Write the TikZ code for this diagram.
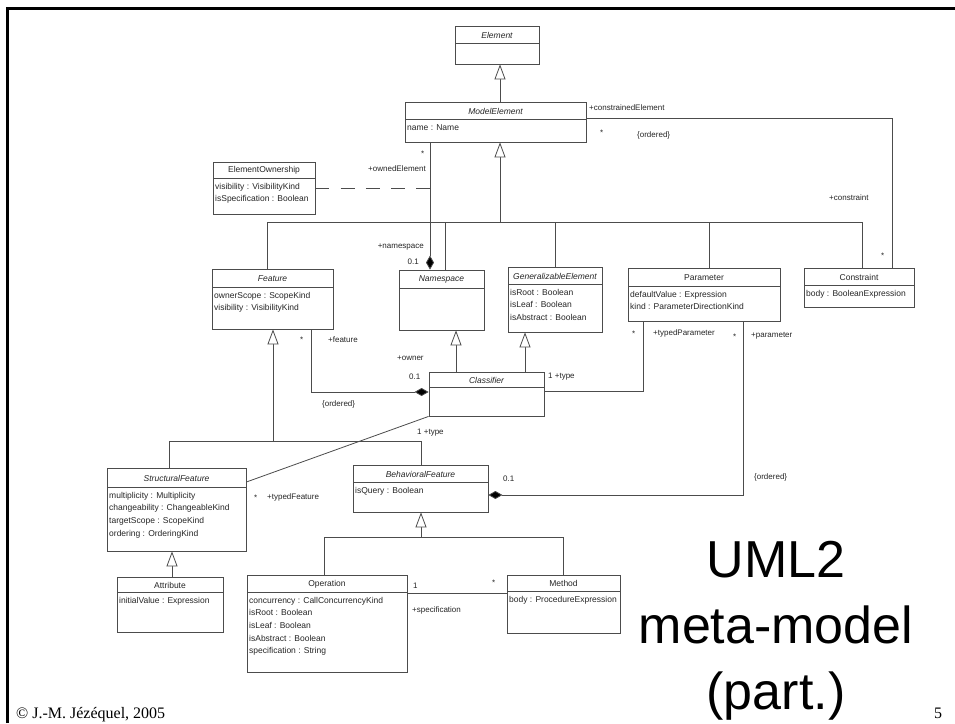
\documentclass[tikz,border=0pt]{standalone}
\usepackage{fontspec}
\setmainfont{Liberation Serif}
\newfontfamily\arialf{Liberation Sans}
\usetikzlibrary{arrows.meta,fit}
\newcommand\umlclass[7]{%
  \coordinate (#1-a) at (#2,#3);
  \coordinate (#1-b) at (#4,#5);
  \node[box, fit=(#1-a)(#1-b)] (#1) {};
  \draw[ln] (#2,#6) -- (#4,#6);
  \node[ttl] (#1-t) at ({(#2+#4)/2},{(#3+#6)/2+0.5}) {#7};
}
\newcommand\umlattr[5]{% name, x1, ydiv, text
  \node[attr] (#1) at (#2+2,#3+5) {#4#5};
}
\begin{document}
\begin{tikzpicture}[x=1pt,y=-1pt,
  box/.style={draw=black!70, line width=0.8pt, inner sep=0pt, fill=white},
  ln/.style={draw=black!70, line width=0.8pt},
  gen/.style={ln, -{Triangle[open,length=15pt,width=11pt,fill=white]}},
  comp/.style={ln, -{Diamond[length=14pt,width=8pt,fill=black]}},
  ttl/.style={font=\arialf\fontsize{8.5}{10}\selectfont, inner sep=0pt, text=black!85},
  attr/.style={inner sep=0pt, text=black!85, align=left, anchor=north west, font=\arialf\fontsize{8.5}{12.6}\selectfont},
  lbl/.style={font=\arialf\fontsize{8}{10}\selectfont, inner sep=0pt, text=black!85, anchor=west},
  lblr/.style={lbl, anchor=east},
  big/.style={font=\arialf\fontsize{52}{60}\selectfont, inner sep=0pt, anchor=base},
]
\fill[white] (0,0) rectangle (955,723);
\useasboundingbox (0,0) rectangle (955,723);
\draw[line width=3pt, line join=miter] (7.5,723) -- (7.5,8) -- (955,8);

% classes
\umlclass{El}{455}{26}{539}{64}{43}{\itshape Element}
\umlclass{ME}{405}{102}{586}{142}{119}{\itshape ModelElement}
\umlattr{MEa}{405}{119}{name : Name}{}
\umlclass{EO}{213}{162}{315}{214}{178}{ElementOwnership}
\umlattr{EOa}{213}{178}{visibility : VisibilityKind\\isSpecification : Boolean}{}
\umlclass{Feat}{212}{269}{333}{329}{287}{\itshape Feature}
\umlattr{Feata}{212}{287}{ownerScope : ScopeKind\\visibility : VisibilityKind}{}
\umlclass{NS}{399}{270}{484}{330}{288}{\itshape Namespace}
\umlclass{GE}{508}{267}{602}{332}{284}{\itshape GeneralizableElement}
\umlattr{GEa}{508}{284}{isRoot : Boolean\\isLeaf : Boolean\\isAbstract : Boolean}{}
\umlclass{Par}{628}{268}{780}{321}{286}{Parameter}
\umlattr{Para}{628}{286}{defaultValue : Expression\\kind : ParameterDirectionKind}{}
\umlclass{Con}{804}{268}{914}{307}{285}{Constraint}
\umlattr{Cona}{804}{285}{body : BooleanExpression}{}
\umlclass{Cls}{429}{372}{544}{416}{387}{\itshape Classifier}
\umlclass{SF}{107}{468}{246}{551}{487}{\itshape StructuralFeature}
\umlattr{SFa}{107}{487}{multiplicity : Multiplicity\\changeability : ChangeableKind\\targetScope : ScopeKind\\ordering : OrderingKind}{}
\umlclass{BF}{353}{465}{488}{512}{482}{\itshape BehavioralFeature}
\umlattr{BFa}{353}{482}{isQuery : Boolean}{}
\umlclass{Att}{117}{577}{223}{632}{592}{Attribute}
\umlattr{Atta}{117}{592}{initialValue : Expression}{}
\umlclass{Op}{247}{575}{407}{672}{592}{Operation}
\umlattr{Opa}{247}{592}{concurrency : CallConcurrencyKind\\isRoot : Boolean\\isLeaf : Boolean\\isAbstract : Boolean\\specification : String}{}
\umlclass{Meth}{507}{575}{620}{633}{591}{Method}
\umlattr{Metha}{507}{591}{body : ProcedureExpression}{}

% generalizations
\draw[gen] (500,0 |- ME.north) -- (500,0 |- El.south);
\coordinate (hub) at (500,222);
\draw[gen] (hub) -- (500,0 |- ME.south);
\draw[ln] (267,0 |- Feat.north) -- (267,222) -- (862,222) -- (862,0 |- Con.north);
\draw[ln] (445,222) -- (445,0 |- NS.north);
\draw[ln] (555,222) -- (555,0 |- GE.north);
\draw[ln] (709,222) -- (709,0 |- Par.north);
\draw[gen] (456,0 |- Cls.north) -- (456,0 |- NS.south);
\draw[gen] (525,0 |- Cls.north) -- (525,0 |- GE.south);
\coordinate (hub2) at (273,441);
\draw[gen] (hub2) -- (273,0 |- Feat.south);
\draw[ln] (169,0 |- SF.north) -- (169,441) -- (421,441) -- (421,0 |- BF.north);
\draw[gen] (172,0 |- Att.north) -- (172,0 |- SF.south);
\coordinate (hub3) at (421,537);
\draw[gen] (hub3) -- (421,0 |- BF.south);
\draw[ln] (324,0 |- Op.north) -- (324,537) -- (563,537) -- (563,0 |- Meth.north);

% associations
\draw[comp] (430,0 |- ME.south) -- (430,0 |- NS.north);
\draw[ln, dash pattern=on 14pt off 11.25pt] (EO.east |- 0,188) -- (430,188);
\draw[comp] (311,0 |- Feat.south) -- (311,392) -- (Cls.west |- 0,392);
\draw[ln] (Cls.east |- 0,391) -- (643,391) -- (643,0 |- Par.south);
\draw[ln] (Cls.south west) -- (SF.east |- 0,482);
\draw[comp] (743,0 |- Par.south) -- (743,495) -- (BF.east |- 0,495);
\draw[ln] (ME.east |- 0,118) -- (892,118) -- (892,0 |- Con.north);
\draw[ln] (Op.east |- 0,593) -- (Meth.west |- 0,593);

% labels
\node[lbl] (l1) at (589,108) {+constrainedElement};
\node[lbl] (l2) at (600,133) {*};
\node[lbl] (l3) at (637,135) {\{ordered\}};
\node[lbl] (l4) at (421,154) {*};
\node[lblr] (l5) at (426,169) {+ownedElement};
\node[lbl] (l6) at (829,198) {+constraint};
\node[lbl] (l7) at (881,256) {*};
\node[lblr] (l8) at (424,247) {+namespace};
\node[lblr] (l9) at (419,262) {0.1};
\node[lbl] (l10) at (300,340) {*};
\node[lbl] (l11) at (328,340) {+feature};
\node[lbl] (l12) at (397,358) {+owner};
\node[lbl] (l13) at (409,377) {0.1};
\node[lbl] (l14) at (322,404) {\{ordered\}};
\node[lbl] (l15) at (548,377) {1 +type};
\node[lbl] (l16) at (632,334) {*};
\node[lbl] (l17) at (653,333) {+typedParameter};
\node[lbl] (l18) at (733,337) {*};
\node[lbl] (l19) at (751,336) {+parameter};
\node[lbl] (l20) at (417,433) {1 +type};
\node[lbl] (l21) at (254,498) {*};
\node[lbl] (l22) at (267,497) {+typedFeature};
\node[lbl] (l23) at (503,479) {0.1};
\node[lbl] (l24) at (754,477) {\{ordered\}};
\node[lbl] (l25) at (413,586) {1};
\node[lbl] (l26) at (492,583) {*};
\node[lbl] (l27) at (412,610) {+specification};

% title
\node[big] (t1) at (776,577) {UML2};
\node[big] (t2) at (776,643) {meta-model};
\node[big] (t3) at (776,709) {(part.)};
\node[font=\fontsize{16}{18}\selectfont, inner sep=0pt, anchor=base west] (cp) at (16,718) {© J.-M. Jézéquel, 2005};
\node[font=\fontsize{16}{18}\selectfont, inner sep=0pt, anchor=base west] (pg) at (934,718) {5};
\end{tikzpicture}
\end{document}
